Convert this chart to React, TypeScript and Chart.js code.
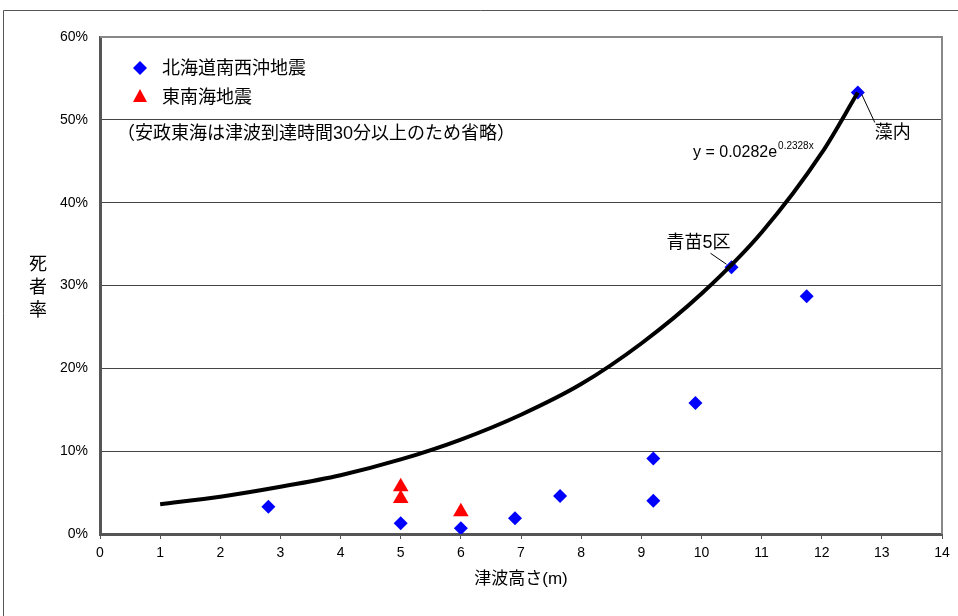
import React, { useEffect, useRef } from "react";
import { Chart, registerables } from "chart.js";

Chart.register(...registerables);

// 北海道南西沖地震 (tsunami height m, death rate %)
const hokkaidoX = [2.8, 5, 6, 6.9, 7.65, 9.2, 9.2, 9.9, 10.5, 11.75, 12.6];
const hokkaidoY = [3.3, 1.3, 0.7, 1.9, 4.6, 9.1, 4.0, 15.8, 32.2, 28.7, 53.3];
// 東南海地震
const tonankaiX = [5, 5, 6];
const tonankaiY = [5.7, 4.3, 2.7];
// trend line
const trendX = [1, 2, 3, 4, 5, 6, 7, 8, 9, 10, 11, 12, 12.6];
const trendY = [3.6, 4.5, 5.7, 7.1, 9.0, 11.4, 14.4, 18.1, 23.0, 29.0, 36.4, 46.0, 53.3];

const xTicks = [0, 1, 2, 3, 4, 5, 6, 7, 8, 9, 10, 11, 12, 13, 14];
const yTicks = [0, 10, 20, 30, 40, 50, 60];

const labels = ["北海道南西沖地震", "東南海地震"];
const note = "（安政東海は津波到達時間30分以上のため省略）";
const xTitle = "津波高さ(m)";
const yTitle = ["死", "者", "率"];
const formulaMain = "y = 0.0282e";
const formulaExp = "0.2328x";
const tagMonai = "藻内";
const tagAonae = "青苗5区";

const FONT = "'Liberation Sans', 'Noto Sans CJK JP', sans-serif";

const overlay = {
  id: "overlay",
  beforeDraw(chart: any) {
    const { ctx, width, height } = chart;
    ctx.save();
    ctx.fillStyle = "#fff";
    ctx.fillRect(0, 0, width, height);
    ctx.strokeStyle = "#555";
    ctx.lineWidth = 1;
    ctx.beginPath();
    ctx.moveTo(3.5, height);
    ctx.lineTo(3.5, 10.5);
    ctx.lineTo(width, 10.5);
    ctx.stroke();
    ctx.restore();
  },
  afterDatasetsDraw(chart: any) {
    const { ctx, chartArea: a, scales } = chart;
    const xs = scales.x, ys = scales.y;
    ctx.save();
    // top and right border of the plot area
    ctx.strokeStyle = "#888";
    ctx.lineWidth = 2;
    ctx.beginPath();
    ctx.moveTo(a.left, a.top);
    ctx.lineTo(a.right, a.top);
    ctx.lineTo(a.right, a.bottom);
    ctx.stroke();

    // legend
    ctx.fillStyle = "#0000ff";
    const lx = a.left + 40, ly1 = a.top + 31, ly2 = a.top + 59;
    ctx.beginPath();
    ctx.moveTo(lx, ly1 - 7);
    ctx.lineTo(lx + 7, ly1);
    ctx.lineTo(lx, ly1 + 7);
    ctx.lineTo(lx - 7, ly1);
    ctx.closePath();
    ctx.fill();
    ctx.fillStyle = "#ff0000";
    ctx.beginPath();
    ctx.moveTo(lx, ly2 - 7);
    ctx.lineTo(lx + 7, ly2 + 6);
    ctx.lineTo(lx - 7, ly2 + 6);
    ctx.closePath();
    ctx.fill();
    ctx.fillStyle = "#000";
    ctx.font = `18px ${FONT}`;
    ctx.textBaseline = "middle";
    ctx.textAlign = "left";
    ctx.fillText(labels[0], lx + 22, ly1 + 1);
    ctx.fillText(labels[1], lx + 22, ly2 + 2);
    ctx.fillText(note, a.left + 17, a.top + 97);

    // y title
    ctx.textAlign = "center";
    yTitle.forEach((c, i) => ctx.fillText(c, 38, 265 + i * 23));

    // formula
    const fx = xs.getPixelForValue(9.86), fy = ys.getPixelForValue(46);
    ctx.textAlign = "left";
    ctx.font = `16px ${FONT}`;
    ctx.fillText(formulaMain, fx, fy);
    const w = ctx.measureText(formulaMain).width;
    ctx.font = `10px ${FONT}`;
    ctx.fillText(formulaExp, fx + w + 1, fy - 7);

    // point tags with leader lines
    ctx.strokeStyle = "#000";
    ctx.lineWidth = 1;
    const p1x = xs.getPixelForValue(12.6), p1y = ys.getPixelForValue(53.3);
    ctx.beginPath();
    ctx.moveTo(p1x + 4, p1y + 2);
    ctx.lineTo(p1x + 17, p1y + 30);
    ctx.stroke();
    ctx.font = `18px ${FONT}`;
    ctx.fillText(tagMonai, p1x + 17, p1y + 41);

    const p2x = xs.getPixelForValue(10.5), p2y = ys.getPixelForValue(32.2);
    ctx.beginPath();
    ctx.moveTo(p2x - 5, p2y - 3);
    ctx.lineTo(p2x - 21, p2y - 14);
    ctx.stroke();
    ctx.textAlign = "center";
    ctx.fillText(tagAonae, p2x - 33, p2y - 24);
    ctx.restore();
  },
};

export default function App() {
  const ref = useRef<HTMLCanvasElement>(null);
  useEffect(() => {
    document.body.style.margin = "0";
    const hk = hokkaidoX.map((x, i) => ({ x, y: hokkaidoY[i] }));
    const tn = tonankaiX.map((x, i) => ({ x, y: tonankaiY[i] }));
    const tr = trendX.map((x, i) => ({ x, y: trendY[i] }));
    const chart = new Chart(ref.current!, {
      type: "scatter",
      data: {
        datasets: [
          {
            label: "trend",
            data: tr,
            showLine: true,
            borderColor: "#000",
            borderWidth: 4,
            pointRadius: 0,
            cubicInterpolationMode: "monotone",
            order: 0,
          } as any,
          {
            label: labels[0],
            data: hk,
            pointStyle: "rectRot",
            pointRadius: 7,
            backgroundColor: "#0000ff",
            borderColor: "#0000ff",
            borderWidth: 0,
            order: 1,
          },
          {
            label: labels[1],
            data: tn,
            pointStyle: "triangle",
            pointRadius: 9,
            backgroundColor: "#ff0000",
            borderColor: "#ff0000",
            borderWidth: 0,
            order: 2,
          },
        ],
      },
      options: {
        responsive: false,
        animation: false,
        layout: { padding: { top: 37, right: 16, left: 0, bottom: 0 } },
        plugins: { legend: { display: false }, tooltip: { enabled: false } },
        scales: {
          x: {
            type: "linear",
            min: 0,
            max: 14,
            afterBuildTicks: (s: any) => {
              s.ticks = xTicks.map((v) => ({ value: v }));
            },
            afterFit: (s: any) => {
              s.height = 82;
            },
            ticks: {
              color: "#000",
              font: { family: FONT, size: 14 },
              padding: 6,
              maxRotation: 0,
            },
            grid: {
              display: true,
              drawOnChartArea: false,
              drawTicks: true,
              tickLength: 5,
              color: "#555",
            },
            border: { display: true, color: "#555", width: 3 },
            title: {
              display: true,
              text: xTitle,
              color: "#000",
              font: { family: FONT, size: 17 },
              padding: { top: 0, bottom: 26 },
            },
          },
          y: {
            type: "linear",
            min: 0,
            max: 60,
            afterBuildTicks: (s: any) => {
              s.ticks = yTicks.map((v) => ({ value: v }));
            },
            afterFit: (s: any) => {
              s.width = 100;
            },
            ticks: {
              color: "#000",
              font: { family: FONT, size: 14 },
              padding: 12,
              callback: (v: any) => `${v}%`,
            },
            grid: {
              display: true,
              drawTicks: false,
              color: "#444",
              lineWidth: 1,
            },
            border: { display: true, color: "#555", width: 3 },
          },
        },
      },
      plugins: [overlay],
    });
    return () => chart.destroy();
  }, []);
  return (
    <div style={{ width: 958, height: 616 }}>
      <canvas ref={ref} width={958} height={616} />
    </div>
  );
}
